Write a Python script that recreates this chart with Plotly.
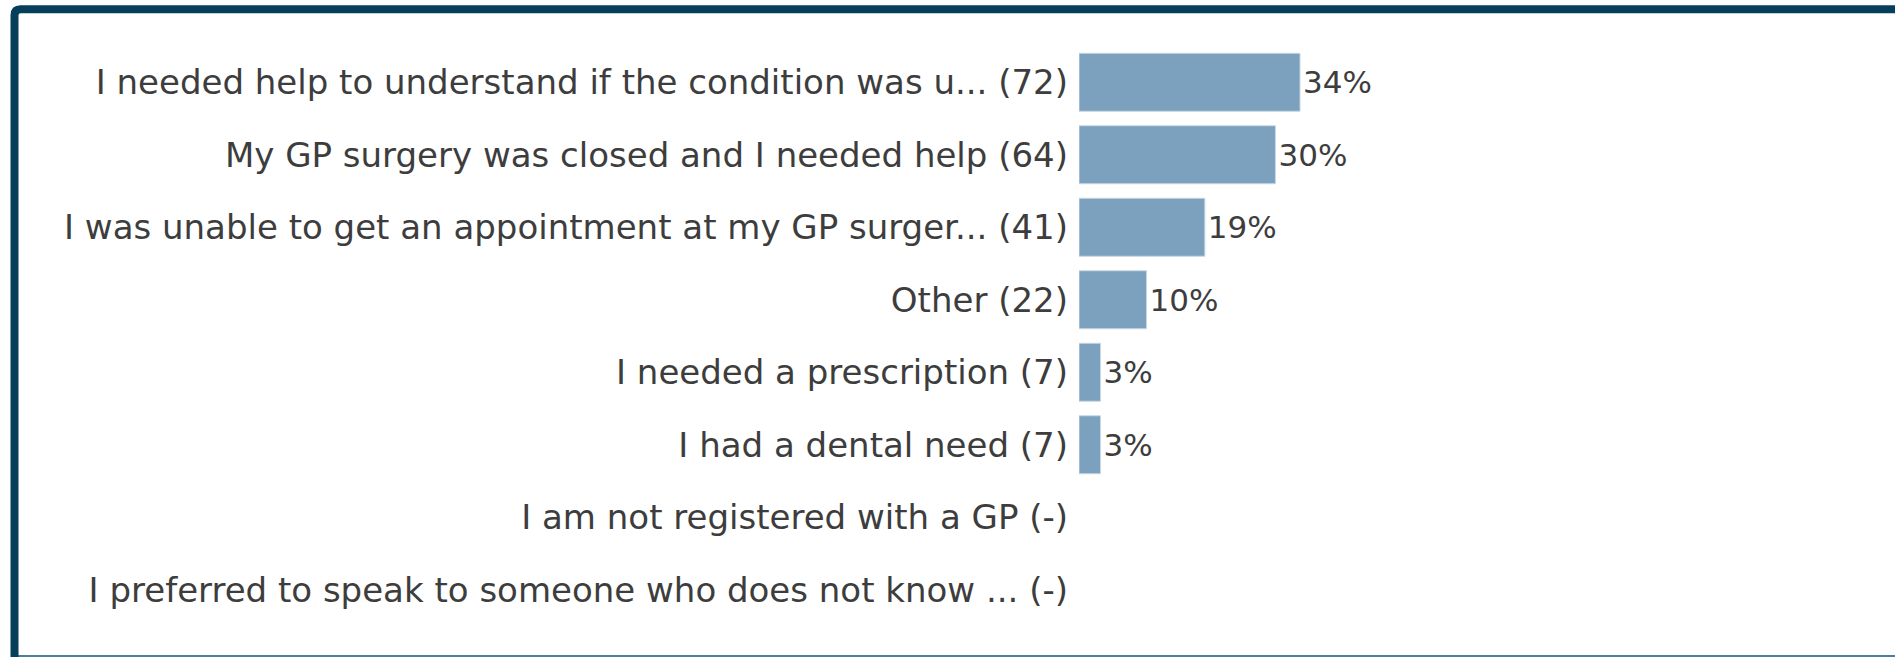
import plotly.graph_objects as go

# ---- data ----
reasons = [
    "I needed help to understand if the condition was u...",
    "My GP surgery was closed and I needed help",
    "I was unable to get an appointment at my GP surger...",
    "Other",
    "I needed a prescription",
    "I had a dental need",
    "I am not registered with a GP",
    "I preferred to speak to someone who does not know ...",
]
counts = [72, 64, 41, 22, 7, 7, None, None]

total = sum(c for c in counts if c is not None)
pcts = [(c / total * 100) if c is not None else None for c in counts]
labels = [f"{r} ({c if c is not None else '-'})" for r, c in zip(reasons, counts)]
texts = [f"{round(p)}%" if p is not None else "" for p in pcts]

FONT = "DejaVu Sans, Verdana, sans-serif"
W, H = 1895, 657
ML, MR, MT, MB = 1079, 0, 45.75, 31.25
PW, PH = W - ML - MR, H - MT - MB

def px(x):
    return (x - ML) / PW

def py(y):
    return (H - MB - y) / PH

fig = go.Figure(
    go.Bar(
        y=labels,
        x=pcts,
        orientation="h",
        text=texts,
        textposition="outside",
        cliponaxis=False,
        textfont=dict(family=FONT, size=31, color="#3d3d3d"),
        marker=dict(color="#7ba1be", line=dict(color="#c8d8e4", width=1)),
        hoverinfo="skip",
    )
)

fig.update_layout(
    width=W,
    height=H,
    margin=dict(l=ML, r=MR, t=MT, b=MB, autoexpand=False),
    paper_bgcolor="white",
    plot_bgcolor="white",
    bargap=0.2,
    showlegend=False,
    font=dict(family=FONT, size=34, color="#3d3d3d"),
    xaxis=dict(range=[0, 124.8], visible=False, fixedrange=True),
    yaxis=dict(
        type="category",
        categoryorder="array",
        categoryarray=labels,
        range=[7.5, -0.5],
        showgrid=False,
        zeroline=False,
        showline=False,
        ticks="",
        ticklabelstandoff=10,
        automargin=False,
        fixedrange=True,
        tickfont=dict(family=FONT, size=34, color="#3d3d3d"),
    ),
    shapes=[
        # thin bottom border
        dict(type="line", xref="paper", yref="paper",
             x0=px(18), x1=px(W), y0=py(655.8), y1=py(655.8),
             line=dict(color="#4d7f98", width=2), layer="above"),
        # thick left + top border with rounded corner
        dict(type="path", xref="paper", yref="paper",
             path=(f"M {px(14.5)} {py(H + 5)} L {px(14.5)} {py(15)} "
                   f"Q {px(14.5)} {py(9)} {px(20.5)} {py(9)} L {px(W + 5)} {py(9)}"),
             line=dict(color="#063f5c", width=8), layer="above"),
    ],
)

fig.write_html(
    "out.html",
    config={"displayModeBar": False},
    post_script="document.body.style.margin='0';document.body.style.overflow='hidden';",
)
